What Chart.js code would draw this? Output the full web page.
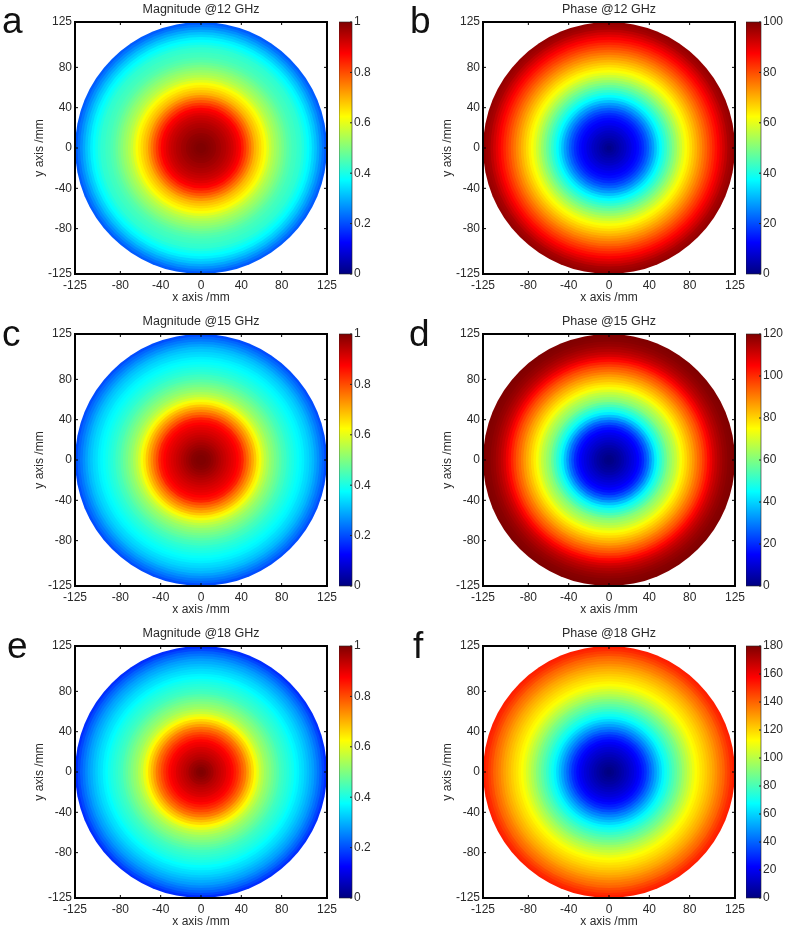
<!DOCTYPE html>
<html>
<head>
<meta charset="utf-8">
<title>Magnitude and phase</title>
<script src="https://cdn.jsdelivr.net/npm/chart.js@4"></script>
<style>
    html, body { margin: 0; padding: 0; background: #fff; }
    #fig { position: relative; width: 787px; height: 931px; overflow: hidden; filter: blur(0.45px); }
    canvas { position: absolute; }
    .letter { position: absolute; font: 37px "Liberation Sans", Arial, sans-serif; color: #111; line-height: 40px; }
</style>
</head>
<body>
<div id="fig"></div>
<script>
// ring radius in mm, from the centre outwards
const ringRadii = [2.5, 5, 7.5, 10, 12.5, 15, 17.5, 20, 22.5, 25, 27.5, 30, 32.5, 35, 37.5, 40, 42.5, 45, 47.5, 50, 52.5, 55, 57.5, 60, 62.5,
    65, 67.5, 70, 72.5, 75, 77.5, 80, 82.5, 85, 87.5, 90, 92.5, 95, 97.5, 100, 102.5, 105, 107.5, 110, 112.5, 115, 117.5, 120, 122.5, 125];

// values, same order as ringRadii
const mag12 = [1, 1, .995, .99, .985, .98, .97, .965, .955, .95, .94, .93, .92, .905, .89, .875, .85, .82, .79, .76, .73, .7, .68, .66, .64,
    .62, .595, .57, .55, .535, .52, .505, .49, .475, .46, .45, .44, .435, .425, .42, .405, .39, .375, .36, .335, .315, .29, .265, .24, .215];
const phase12 = [1, 2, 3, 4, 5, 6, 7, 8.5, 9.5, 11, 12, 13.5, 15, 17, 19.5, 22, 25, 28, 31.5, 35, 37.5, 40, 42.5, 45, 47.5,
    50, 52.5, 55, 57.5, 60, 62, 64, 66, 68, 70, 72, 74, 76, 78, 80, 82, 84, 86, 88, 90, 92, 94, 96, 97, 98];
const mag15 = [1, 1, .995, .99, .98, .97, .96, .95, .94, .93, .92, .91, .9, .89, .875, .86, .84, .8, .77, .74, .71, .68, .645, .615, .585,
    .56, .54, .52, .505, .49, .475, .46, .445, .435, .42, .41, .4, .39, .38, .37, .36, .345, .335, .32, .305, .285, .265, .245, .225, .2];
const phase15 = [.5, 1, 2, 3, 4, 5.5, 7, 8.5, 10, 11.5, 13, 15, 17, 20, 24, 28, 33, 38, 43, 47, 50, 53.5, 57, 60.5, 63,
    65.5, 68, 71, 74, 77, 79.5, 82, 84.5, 87, 90, 92.5, 95, 98, 101, 104, 107, 110, 112, 114, 115.5, 117, 118, 119, 119.5, 120];
const mag18 = [1, .995, .985, .975, .965, .95, .94, .93, .92, .91, .895, .885, .87, .85, .83, .805, .78, .755, .72, .69, .66, .63, .6, .57, .55,
    .53, .515, .5, .485, .47, .455, .44, .43, .42, .41, .4, .39, .375, .365, .35, .34, .325, .31, .295, .28, .26, .24, .22, .195, .17];
const phase18 = [.5, 1.5, 3, 4.5, 6, 8, 10, 12, 14, 16, 18.5, 21, 24, 27.5, 31, 36, 41, 46, 51, 56, 61, 66, 70, 73, 77,
    80.5, 84, 87.5, 91, 95, 98.5, 102, 105.5, 109, 112, 114.5, 117, 119, 121.5, 124, 126.5, 129, 132, 135, 137.5, 140, 144, 147, 150, 152];

// tick labels
const axisTicks = [-125, -80, -40, 0, 40, 80, 125];
const magTicks = [0, 0.2, 0.4, 0.6, 0.8, 1];
const phase12Ticks = [0, 20, 40, 60, 80, 100];
const phase15Ticks = [0, 20, 40, 60, 80, 100, 120];
const phase18Ticks = [0, 20, 40, 60, 80, 100, 120, 140, 160, 180];

const FONT = '"Liberation Sans", Arial, sans-serif';
const TEXT = '#2a2a2a';
const fig = document.getElementById('fig');

function clamp01(v) {
    return Math.max(0, Math.min(1, v));
}

// matlab jet colormap
function jet(v) {
    const r = clamp01(1.5 - Math.abs(4 * v - 3));
    const g = clamp01(1.5 - Math.abs(4 * v - 2));
    const b = clamp01(1.5 - Math.abs(4 * v - 1));
    return `rgb(${Math.round(r * 255)},${Math.round(g * 255)},${Math.round(b * 255)})`;
}

function addCanvas(left, top, width, height) {
    const c = document.createElement('canvas');
    c.width = width;
    c.height = height;
    c.style.left = left + 'px';
    c.style.top = top + 'px';
    fig.appendChild(c);
    return c;
}

// black box with short inward ticks on all four sides
const framePlugin = {
    id: 'frame',
    afterDraw(chart) {
        const { ctx, chartArea: a, scales } = chart;
        ctx.save();
        ctx.strokeStyle = '#000';
        ctx.lineWidth = 1;
        ctx.beginPath();
        axisTicks.forEach(t => {
            const px = scales.x.getPixelForValue(t);
            const py = scales.y.getPixelForValue(t);
            ctx.moveTo(px, a.top); ctx.lineTo(px, a.top + 3);
            ctx.moveTo(px, a.bottom); ctx.lineTo(px, a.bottom - 3);
            ctx.moveTo(a.left, py); ctx.lineTo(a.left + 3, py);
            ctx.moveTo(a.right, py); ctx.lineTo(a.right - 3, py);
        });
        ctx.stroke();
        ctx.lineWidth = 2;
        ctx.strokeRect(a.left, a.top, a.right - a.left, a.bottom - a.top);
        ctx.restore();
    }
};

const cbTicksPlugin = {
    id: 'cbTicks',
    afterDraw(chart) {
        const { ctx, chartArea: a, scales } = chart;
        ctx.save();
        ctx.strokeStyle = '#222';
        ctx.lineWidth = 1;
        ctx.beginPath();
        scales.y.ticks.forEach(t => {
            const py = scales.y.getPixelForValue(t.value);
            ctx.moveTo(a.right, py);
            ctx.lineTo(a.right - 2, py);
        });
        ctx.stroke();
        ctx.lineWidth = 0.6;
        ctx.strokeRect(a.left, a.top, a.right - a.left, a.bottom - a.top);
        ctx.restore();
    }
};

function drawPanel(canvas, titleText, values, maxVal) {
    // discs are painted biggest first so the smaller ones stay on top
    const radii = ringRadii.slice().reverse();
    const vals = values.slice().reverse();
    return new Chart(canvas.getContext('2d'), {
        type: 'scatter',
        data: {
            datasets: [{
                data: radii.map(() => ({ x: 0, y: 0 })),
                pointBorderWidth: 0,
                pointBackgroundColor: ctx => jet(vals[ctx.dataIndex] / maxVal),
                pointRadius: ctx => {
                    const x = ctx.chart.scales.x;
                    return Math.abs(x.getPixelForValue(radii[ctx.dataIndex]) - x.getPixelForValue(0));
                }
            }]
        },
        options: {
            responsive: false,
            animation: false,
            events: [],
            plugins: {
                legend: { display: false },
                tooltip: { enabled: false },
                title: {
                    display: true,
                    fullSize: false,
                    text: titleText,
                    color: TEXT,
                    font: { family: FONT, size: 12.5, weight: 'normal', lineHeight: 1.2 },
                    padding: { top: 2, bottom: 5 }
                }
            },
            scales: {
                x: {
                    type: 'linear',
                    min: -125,
                    max: 125,
                    afterBuildTicks: axis => { axis.ticks = axisTicks.map(v => ({ value: v })); },
                    afterFit: axis => { axis.height = 31; },
                    grid: { display: false, drawTicks: false },
                    border: { display: false },
                    ticks: { color: TEXT, font: { family: FONT, size: 12 }, padding: 4, autoSkip: false, maxRotation: 0 },
                    title: { display: true, text: 'x axis /mm', color: TEXT, font: { family: FONT, size: 12 }, padding: { top: 0, bottom: 0 } }
                },
                y: {
                    type: 'linear',
                    min: -125,
                    max: 125,
                    afterBuildTicks: axis => { axis.ticks = axisTicks.map(v => ({ value: v })); },
                    afterFit: axis => { axis.width = 75; },
                    grid: { display: false, drawTicks: false },
                    border: { display: false },
                    ticks: { color: TEXT, font: { family: FONT, size: 12 }, padding: 3, autoSkip: false },
                    title: { display: true, text: 'y axis /mm', color: TEXT, font: { family: FONT, size: 12 }, padding: { top: 32, bottom: 0 } }
                }
            }
        },
        plugins: [framePlugin]
    });
}

function drawColorbar(canvas, tickVals, maxVal) {
    return new Chart(canvas.getContext('2d'), {
        type: 'bar',
        data: {
            labels: [''],
            datasets: [{
                data: [[0, maxVal]],
                barPercentage: 1,
                categoryPercentage: 1,
                backgroundColor: ctx => {
                    const a = ctx.chart.chartArea;
                    if (!a) return '#00f';
                    const g = ctx.chart.ctx.createLinearGradient(0, a.bottom, 0, a.top);
                    [0, 0.125, 0.375, 0.625, 0.875, 1].forEach(s => g.addColorStop(s, jet(s)));
                    return g;
                }
            }]
        },
        options: {
            responsive: false,
            animation: false,
            events: [],
            layout: { autoPadding: false, padding: { top: 10, bottom: 10 } },
            plugins: { legend: { display: false }, tooltip: { enabled: false } },
            scales: {
                x: { display: false },
                y: {
                    position: 'right',
                    min: 0,
                    max: maxVal,
                    afterBuildTicks: axis => { axis.ticks = tickVals.map(v => ({ value: v })); },
                    afterFit: axis => { axis.width = 26; },
                    grid: { display: false, drawTicks: false },
                    border: { display: false },
                    ticks: { color: TEXT, font: { family: FONT, size: 12 }, padding: 2, autoSkip: false, callback: v => String(v) }
                }
            }
        },
        plugins: [cbTicksPlugin]
    });
}

const panels = [
    { letter: 'a', lx: 2, ly: 2, left: 0, top: 0, title: 'Magnitude @12 GHz', values: mag12, max: 1, ticks: magTicks },
    { letter: 'b', lx: 410, ly: 2, left: 408, top: 0, title: 'Phase @12 GHz', values: phase12, max: 100, ticks: phase12Ticks },
    { letter: 'c', lx: 2, ly: 315, left: 0, top: 312, title: 'Magnitude @15 GHz', values: mag15, max: 1, ticks: magTicks },
    { letter: 'd', lx: 409, ly: 315, left: 408, top: 312, title: 'Phase @15 GHz', values: phase15, max: 120, ticks: phase15Ticks },
    { letter: 'e', lx: 7, ly: 627, left: 0, top: 624, title: 'Magnitude @18 GHz', values: mag18, max: 1, ticks: magTicks },
    { letter: 'f', lx: 413, ly: 627, left: 408, top: 624, title: 'Phase @18 GHz', values: phase18, max: 180, ticks: phase18Ticks }
];

panels.forEach(p => {
    // 14px on the right is what the last x tick label reserves
    drawPanel(addCanvas(p.left, p.top, 341, 305), p.title, p.values, p.max);
    const cbWidth = p.left === 0 ? 13 : 15;
    drawColorbar(addCanvas(p.left + (p.left === 0 ? 339 : 338), p.top + 12, cbWidth + 26, 272), p.ticks, p.max);

    const label = document.createElement('div');
    label.className = 'letter';
    label.textContent = p.letter;
    label.style.left = p.lx + 'px';
    label.style.top = (p.ly - 1) + 'px';
    fig.appendChild(label);
});
</script>
</body>
</html>
